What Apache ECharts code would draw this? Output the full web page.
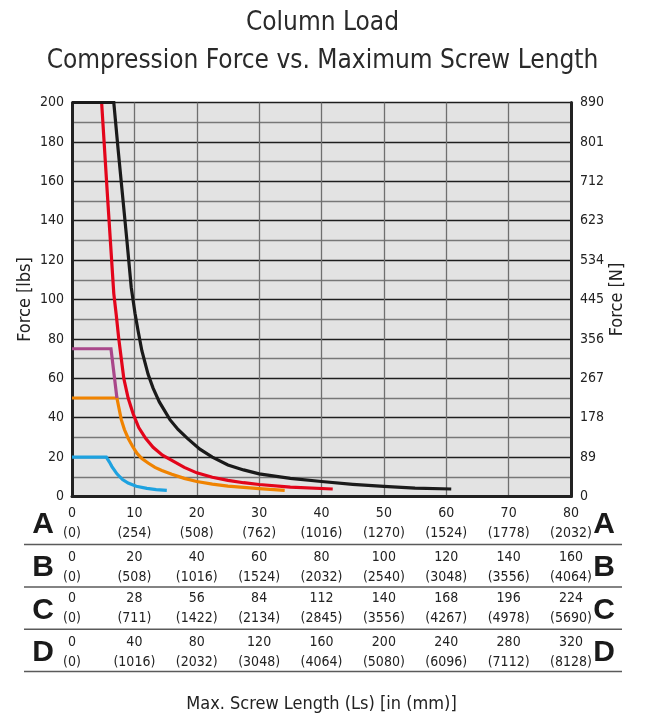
<!DOCTYPE html>
<html>
<head>
<meta charset="utf-8">
<script src="https://cdn.jsdelivr.net/npm/echarts@6/dist/echarts.min.js"></script>
<style>
  html, body { margin: 0; padding: 0; background: #ffffff; }
  #chart { width: 645px; height: 717px; }
</style>
</head>
<body>
<div id="chart"></div>
<script>
// Screw length on scale A (inches), force in lbs
const curveBlack = [[0,200],[6.7,200],[7.4,176],[8.1,153],[8.8,130],[9.5,106],[10.1,93],[10.6,84],[11.2,74],[12.2,62],[13,55],[14,48],[15.7,39],[17,34],[18.5,29.5],[20.5,24],[22.5,20],[25,16],[27.5,13.5],[30,11.5],[35,9.2],[40,7.6],[45,6.2],[50,5.1],[55,4.3],[60.8,3.8]];
const curveRed = [[0,200],[4.75,200],[5.7,152],[6.7,103],[7.1,92],[7.5,80],[8.3,60],[9,50],[9.8,42],[10.7,35],[11.8,29.5],[13,25],[14.5,21],[16,18.3],[18,14.8],[20,12],[22.5,9.8],[25,8.2],[27.5,7],[30,6.1],[35,4.8],[41.8,3.8]];
const curvePurple = [[0,75],[6.25,75],[7.2,50]];
const curveOrange = [[0,50],[7.2,50],[7.9,39],[8.4,34],[9.0,29.6],[9.7,25.5],[10.4,22],[11.2,19.3],[12.2,17],[13.3,14.8],[14.4,13.2],[16,11.3],[18,9.2],[20,7.6],[22.5,6.3],[25,5.3],[27.5,4.6],[30,4.0],[34.1,3.1]];
const curveBlue = [[0,20],[5.5,20],[6.0,17.5],[6.4,15.2],[7.2,11.5],[8.1,8.6],[9.0,6.8],[10.3,5.2],[12,4.1],[13.5,3.5],[15.2,3.1]];

// Length scales for the four rows below the chart: inches and (mm)
const rowA_in = [0,10,20,30,40,50,60,70,80];
const rowA_mm = [0,254,508,762,1016,1270,1524,1778,2032];
const rowB_in = [0,20,40,60,80,100,120,140,160];
const rowB_mm = [0,508,1016,1524,2032,2540,3048,3556,4064];
const rowC_in = [0,28,56,84,112,140,168,196,224];
const rowC_mm = [0,711,1422,2134,2845,3556,4267,4978,5690];
const rowD_in = [0,40,80,120,160,200,240,280,320];
const rowD_mm = [0,1016,2032,3048,4064,5080,6096,7112,8128];
const rowNames = ['A','B','C','D'];

// Force tick labels
const lbsMax = 200, lbsStep = 20;
const newtonMax = 890, newtonStep = 89;

const FONT = '"Liberation Sans Narrow", "DejaVu Sans Condensed", "Roboto", sans-serif';
const TXT = '#222222';

const chart = echarts.init(document.getElementById('chart'), null, { renderer: 'canvas' });

const GRID = { left: 72, right: 74, top: 102.5, bottom: 220.5 };
const rowOffsets = [0, 44, 85.5, 129];
const rowData = [[rowA_in, rowA_mm], [rowB_in, rowB_mm], [rowC_in, rowC_mm], [rowD_in, rowD_mm]];

const xAxes = rowData.map((rd, r) => ({
  type: 'value',
  gridIndex: 0,
  position: 'bottom',
  offset: rowOffsets[r],
  min: 0, max: 80, interval: 10,
  axisLine: r === 0 ? { show: true, onZero: false, lineStyle: { color: '#222', width: 3 } } : { show: false },
  axisTick: { show: false },
  splitLine: r === 0 ? { show: true, lineStyle: { color: '#6f6f6f', width: 1.3 } } : { show: false },
  axisLabel: {
    show: true,
    margin: 6.5,
    fontFamily: FONT, fontSize: 14, color: TXT, lineHeight: 20,
    formatter: (v) => {
      const i = Math.round(v / 10);
      return rd[0][i] + '\n(' + rd[1][i] + ')';
    }
  },
  name: r === 3 ? 'Max. Screw Length (Ls) [in (mm)]' : '',
  nameLocation: 'middle',
  nameGap: 69.5,
  nameMoveOverlap: false,
  nameTextStyle: { fontFamily: FONT, fontSize: 18, color: TXT }
}));

// Row separators and row letters
const graphics = [];
const sepY = [544.5, 587, 629.3, 671.5];
sepY.forEach(y => graphics.push({
  type: 'line', shape: { x1: 24, y1: y, x2: 622, y2: y },
  style: { stroke: '#5a5a5a', lineWidth: 1.5 }
}));
const letterY = [525, 568, 611, 653];
rowNames.forEach((t, i) => {
  [43, 604].forEach(x => graphics.push({
    type: 'text', x: x, y: letterY[i],
    style: { text: t, font: 'bold 30px "Liberation Sans", Arial, sans-serif', fill: '#1a1a1a', align: 'center', verticalAlign: 'middle' }
  }));
});

const lineSeries = (data, color) => ({
  type: 'line', data: data, xAxisIndex: 0, yAxisIndex: 0,
  showSymbol: false, symbol: 'none', smooth: false,
  lineStyle: { color: color, width: 3.2, join: 'miter' },
  clip: false, animation: false
});

chart.setOption({
  animation: false,
  backgroundColor: '#ffffff',
  title: {
    text: 'Column Load\nCompression Force vs. Maximum Screw Length',
    left: 'center', top: 4, padding: [0, 0, 0, 10],
    textStyle: { fontFamily: FONT, fontSize: 26, fontWeight: 'normal', color: '#2a2a2a', lineHeight: 38 }
  },
  grid: Object.assign({ show: true, backgroundColor: '#e3e3e3', borderWidth: 0, containLabel: false, outerBoundsMode: 'none' }, GRID),
  xAxis: xAxes,
  yAxis: [
    {
      type: 'value', position: 'left', min: 0, max: lbsMax, interval: lbsStep,
      axisLine: { show: true, onZero: false, lineStyle: { color: '#222', width: 3 } },
      axisTick: { show: false },
      axisLabel: { margin: 8, fontFamily: FONT, fontSize: 14, color: TXT },
      splitLine: { show: true, lineStyle: { color: '#1e1e1e', width: 1.3 } },
      minorTick: { show: false, splitNumber: 2 },
      minorSplitLine: { show: true, lineStyle: { color: '#777777', width: 1.3 } },
      name: 'Force [lbs]', nameLocation: 'middle', nameGap: 38, nameMoveOverlap: false,
      nameTextStyle: { fontFamily: FONT, fontSize: 18, color: TXT }
    },
    {
      type: 'value', position: 'right', min: 0, max: newtonMax, interval: newtonStep,
      axisLine: { show: true, onZero: false, lineStyle: { color: '#222', width: 3 } },
      axisTick: { show: false },
      axisLabel: { margin: 9, fontFamily: FONT, fontSize: 14, color: TXT },
      splitLine: { show: false },
      name: 'Force [N]', nameLocation: 'middle', nameGap: 37, nameMoveOverlap: false,
      nameTextStyle: { fontFamily: FONT, fontSize: 18, color: TXT }
    }
  ],
  series: [
    lineSeries(curveBlue, '#1ea2e0'),
    lineSeries(curveOrange, '#f08300'),
    lineSeries(curvePurple, '#a9478a'),
    lineSeries(curveRed, '#e3051b'),
    lineSeries(curveBlack, '#1a1a1a')
  ],
  graphic: graphics
});
</script>
</body>
</html>
